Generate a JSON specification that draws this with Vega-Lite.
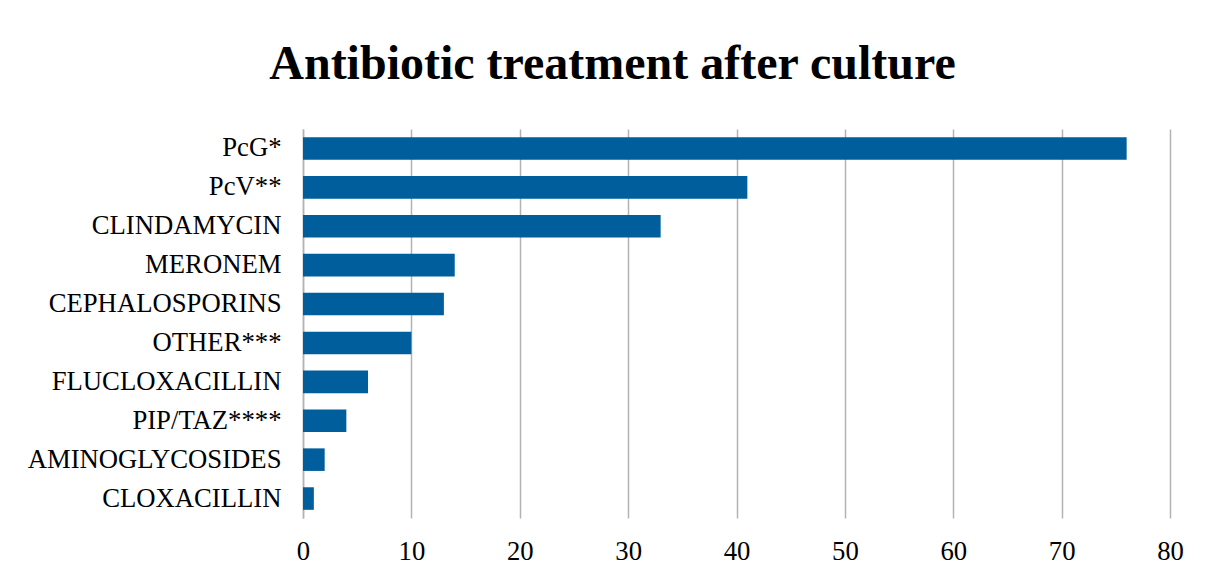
{
  "$schema": "https://vega.github.io/schema/vega-lite/v6.json",
  "width": 867,
  "height": 389,
  "autosize": "none",
  "padding": {"left": 303, "top": 129, "right": 43, "bottom": 61},
  "background": "white",
  "title": {
    "text": "Antibiotic treatment after culture",
    "font": "Liberation Serif",
    "fontSize": 48,
    "fontWeight": "bold",
    "color": "black",
    "anchor": "middle",
    "frame": "group",
    "dx": -124,
    "offset": 40
  },
  "data": {
    "values": [
      {"drug": "PcG*", "value": 76},
      {"drug": "PcV**", "value": 41},
      {"drug": "CLINDAMYCIN", "value": 33},
      {"drug": "MERONEM", "value": 14},
      {"drug": "CEPHALOSPORINS", "value": 13},
      {"drug": "OTHER***", "value": 10},
      {"drug": "FLUCLOXACILLIN", "value": 6},
      {"drug": "PIP/TAZ****", "value": 4},
      {"drug": "AMINOGLYCOSIDES", "value": 2},
      {"drug": "CLOXACILLIN", "value": 1}
    ]
  },
  "mark": {"type": "bar", "color": "#005e9c"},
  "encoding": {
    "y": {
      "field": "drug",
      "type": "nominal",
      "sort": null,
      "scale": {"paddingInner": 0.42, "paddingOuter": 0.21},
      "axis": {
        "title": null,
        "ticks": false,
        "domain": true,
        "domainColor": "#b3b3b3",
        "domainWidth": 1.5,
        "labelFont": "Liberation Serif",
        "labelFontSize": 26.7,
        "labelColor": "black",
        "labelPadding": 22,
        "labelLimit": 400,
        "grid": false
      }
    },
    "x": {
      "field": "value",
      "type": "quantitative",
      "scale": {"domain": [0, 80], "nice": false},
      "axis": {
        "title": null,
        "values": [0, 10, 20, 30, 40, 50, 60, 70, 80],
        "ticks": false,
        "domain": false,
        "grid": true,
        "gridColor": "#b3b3b3",
        "gridWidth": 1.5,
        "labelFont": "Liberation Serif",
        "labelFontSize": 26.7,
        "labelColor": "black",
        "labelPadding": 20,
        "labelFlush": false
      }
    }
  },
  "config": {"view": {"stroke": null}}
}
